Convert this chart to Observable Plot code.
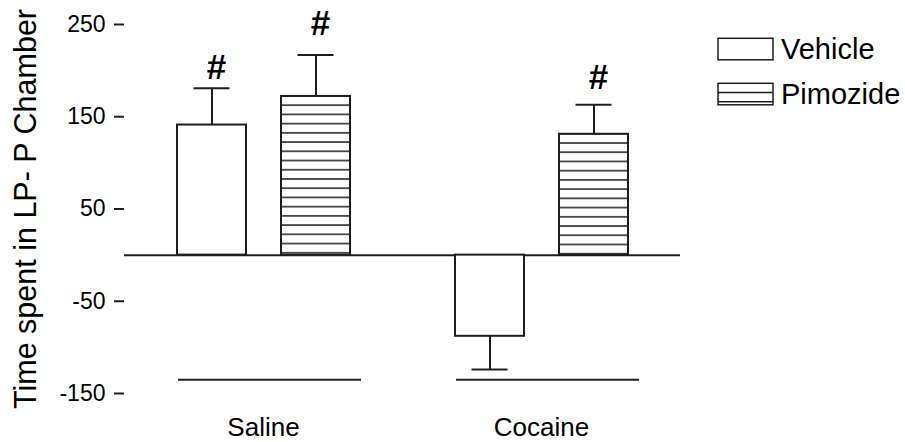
<!DOCTYPE html>
<html><head><meta charset="utf-8">
<script src="https://cdn.jsdelivr.net/npm/d3@7"></script>
<script src="https://cdn.jsdelivr.net/npm/@observablehq/plot@0.6"></script>
<style>
body{margin:0;background:#fff;}
#wrap{position:relative;width:905px;height:442px;font-family:"Liberation Sans",Arial,sans-serif;}
</style></head><body><div id="wrap"></div>
<script>
// ---- data ----
const groups = ["Saline", "Cocaine"];
const treatments = ["Vehicle", "Pimozide"];
const vehicleMean = [141, -88];
const vehicleSem = [40, 36];
const pimozideMean = [172, 131];
const pimozideSem = [45, 32];
const vehicleHashAt = [203, null];   // "#" significance markers (y value), null = none
const pimozideHashAt = [251, 192];
const yTicks = [-150, -50, 50, 150, 250];
const yLabel = "Time spent in LP- P Chamber";
const groupAxisAt = -135;

const rows = [];
groups.forEach((g, i) => {
  rows.push({group: g, treatment: "Vehicle", mean: vehicleMean[i], sem: vehicleSem[i], hashAt: vehicleHashAt[i]});
  rows.push({group: g, treatment: "Pimozide", mean: pimozideMean[i], sem: pimozideSem[i], hashAt: pimozideHashAt[i]});
});
const errEnd = d => d.mean + Math.sign(d.mean) * d.sem;
const ink = "#1e1e1e";
const font = '"Liberation Sans", Arial, sans-serif';

const chart = Plot.plot({
  width: 905, height: 442,
  marginTop: 24, marginBottom: 49, marginLeft: 124, marginRight: 225,
  style: {fontFamily: font, color: "black", background: "white"},
  fx: {domain: groups, paddingInner: 0, paddingOuter: 0},
  x: {domain: treatments, paddingInner: 0.34, paddingOuter: 0.5, axis: null},
  y: {domain: [-150, 250]},
  marks: [
    Plot.ruleY([0], {stroke: ink, strokeWidth: 2}),
    Plot.ruleY([groupAxisAt], {stroke: ink, strokeWidth: 2, insetLeft: 54, insetRight: 41}),
    Plot.ruleX(rows, {fx: "group", x: "treatment", y1: "mean", y2: errEnd, stroke: ink, strokeWidth: 2}),
    Plot.tickY(rows, {fx: "group", x: "treatment", y: errEnd, stroke: ink, strokeWidth: 2, insetLeft: 16.5, insetRight: 16.5}),
    Plot.barY(rows.filter(d => d.treatment === "Vehicle"), {fx: "group", x: "treatment", y: "mean", fill: "white", stroke: ink, strokeWidth: 2}),
    ...groups.map(g => Plot.barY(rows.filter(d => d.treatment === "Pimozide" && d.group === g),
      {fx: "group", x: "treatment", y: "mean", fill: `url(#hatch-${g})`, stroke: ink, strokeWidth: 2})),
    Plot.text(rows.filter(d => d.hashAt != null), {fx: "group", x: "treatment", y: "hashAt", text: () => "#",
      dx: 4.5, fontSize: 35, fontWeight: "bold", fill: "black"}),
    Plot.axisY(yTicks, {tickSize: 10, tickPadding: 9, fontSize: 23, label: null, line: true, strokeWidth: 2, stroke: ink,
      tickFormat: d => String(d)}),
    Plot.axisFx({anchor: "bottom", tickSize: 0, tickPadding: 24, fontSize: 26, label: null}),
    Plot.text([yLabel], {fx: () => "Saline", frameAnchor: "left", textAnchor: "middle", rotate: -90, dx: -98,
      fontSize: 30.5, text: d => d, fill: "black"})
  ]
});

// tick label size
const tickStrings = new Set(yTicks.map(String));
d3.select(chart).selectAll("text").filter(function () { return tickStrings.has(this.textContent.trim()); })
  .style("font-size", "23px").attr("fill", "black");

// hatch patterns anchored at each hatched bar's top
const ys = chart.scale("y");
const period = Math.abs(ys.apply(0) - ys.apply(10));
const defs = d3.select(chart).insert("defs", ":first-child");
groups.forEach((g, i) => {
  const top = ys.apply(pimozideMean[i]);
  const p = defs.append("pattern").attr("id", `hatch-${g}`).attr("patternUnits", "userSpaceOnUse")
    .attr("x", 0).attr("y", top - period / 2).attr("width", 20).attr("height", period);
  p.append("rect").attr("width", 20).attr("height", period).attr("fill", "white");
  p.append("line").attr("x1", 0).attr("x2", 20).attr("y1", period / 2).attr("y2", period / 2)
    .attr("stroke", ink).attr("stroke-width", 1.5);
});
document.getElementById("wrap").appendChild(chart);

// legend
const leg = d3.select("#wrap").append("svg").attr("width", 905).attr("height", 442)
  .style("position", "absolute").style("left", "0px").style("top", "0px").style("pointer-events", "none");
treatments.forEach((t, i) => {
  const top = 38.3 + i * 45;
  const g = leg.append("g");
  g.append("rect").attr("x", 718).attr("y", top).attr("width", 55).attr("height", 21.5)
    .attr("fill", "white").attr("stroke", ink).attr("stroke-width", 1.5);
  if (t === "Pimozide") {
    for (let k = 1; k * period < 21.5; k++) {
      g.append("line").attr("x1", 718).attr("x2", 773).attr("y1", top + k * period).attr("y2", top + k * period)
        .attr("stroke", ink).attr("stroke-width", 1.5);
    }
  }
  g.append("text").attr("x", 781).attr("y", top + 20.4).attr("font-family", font).attr("font-size", 29)
    .attr("fill", "black").text(t);
});
</script></body></html>
